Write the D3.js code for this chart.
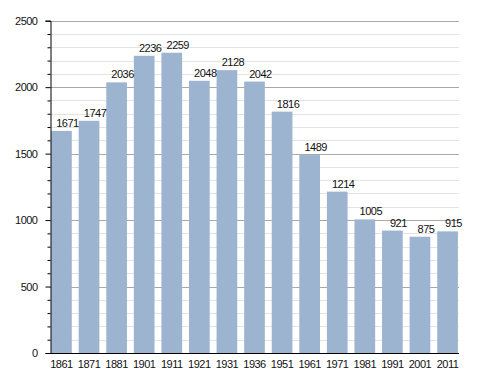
<!DOCTYPE html>
<html>
<head>
<meta charset="utf-8">
<script src="https://cdn.jsdelivr.net/npm/d3@7"></script>
<style>
  body { margin: 0; background: #fff; }
  text { font-family: "Liberation Sans", Arial, sans-serif; letter-spacing: -0.5px; }
</style>
</head>
<body>
<svg class="chart"></svg>
<script>
const years = ["1861","1871","1881","1901","1911","1921","1931","1936","1951","1961","1971","1981","1991","2001","2011"]
const population = [1671,1747,2036,2236,2259,2048,2128,2042,1816,1489,1214,1005,921,875,915]
const majorTicks = [0,500,1000,1500,2000,2500]
const minorTicks = d3.range(0, 2501, 100)

const svg = d3.select("svg.chart")
    .attr("width", 488)
    .attr("height", 373)

const x = d3.scaleBand()
    .domain(years)
    .range([50, 459])
    .paddingInner(0.25)
    .paddingOuter(0.04)

const y = d3.scaleLinear()
    .domain([0, 2500])
    .range([353, 20.7])

// minor grid
svg.append("g")
    .selectAll("line")
    .data(minorTicks.filter(d => d % 500 != 0))
    .enter()
    .append("line")
    .attr("x1", 50).attr("x2", 459)
    .attr("y1", d => Math.round(y(d)) + 0.5)
    .attr("y2", d => Math.round(y(d)) + 0.5)
    .attr("stroke", "#e3e3e3")

// major grid
svg.append("g")
    .selectAll("line")
    .data(majorTicks.filter(d => d > 0))
    .enter()
    .append("line")
    .attr("x1", 50).attr("x2", 459)
    .attr("y1", d => Math.round(y(d)) + 0.5)
    .attr("y2", d => Math.round(y(d)) + 0.5)
    .attr("stroke", "#a8a8a8")

// bars
svg.append("g")
    .selectAll("rect")
    .data(population)
    .enter()
    .append("rect")
    .attr("x", (d, i) => x(years[i]))
    .attr("y", d => y(d))
    .attr("width", x.bandwidth())
    .attr("height", d => y(0) - y(d))
    .attr("fill", "#9cb4cf")

// value labels
svg.append("g")
    .selectAll("text")
    .data(population)
    .enter()
    .append("text")
    .attr("x", (d, i) => x(years[i]) + x.bandwidth() / 2 + 6)
    .attr("y", d => y(d) - 4)
    .attr("text-anchor", "middle")
    .style("font-size", "11px")
    .attr("fill", "#111")
    .text(d => d)

// y axis
const yAxis = svg.append("g")
    .attr("transform", "translate(50.5,0)")
    .call(d3.axisLeft(y).tickValues(majorTicks).tickSize(5).tickPadding(8).tickFormat(d3.format("d")))
yAxis.select(".domain").attr("stroke", "#000")
yAxis.selectAll("text").style("font-size", "11px").attr("fill", "#111")

svg.append("g")
    .attr("transform", "translate(50.5,0)")
    .call(d3.axisLeft(y).tickValues(minorTicks.filter(d => d % 500 != 0)).tickSize(3).tickFormat(""))
    .call(g => g.select(".domain").remove())

// x axis
const xAxis = svg.append("g")
    .attr("transform", "translate(0,353.5)")
    .call(d3.axisBottom(x).tickSize(0).tickPadding(7))
xAxis.select(".domain").attr("stroke", "#000").attr("d", "M50,0H459")
xAxis.selectAll("text").style("font-size", "11px").attr("fill", "#111")
</script>
</body>
</html>
